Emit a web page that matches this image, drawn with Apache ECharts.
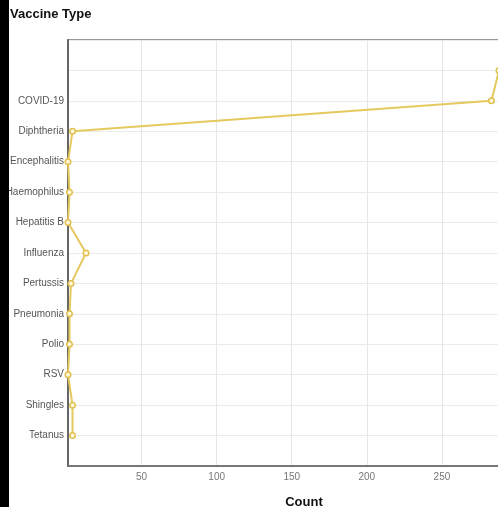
<!DOCTYPE html>
<html>
<head>
<meta charset="utf-8">
<script src="https://cdn.jsdelivr.net/npm/echarts@6/dist/echarts.min.js"></script>
<style>
html,body{margin:0;padding:0;background:#fff;overflow:hidden;}
#wrap{position:relative;width:498px;height:507px;overflow:hidden;}
#chart{position:absolute;left:0;top:0;width:540px;height:507px;}
#bar{position:absolute;left:0;top:0;width:9px;height:507px;background:#000;}
</style>
</head>
<body>
<div id="wrap"><div id="chart"></div><div id="bar"></div></div>
<script>
// Data
var vaccineTypes = ["", "COVID-19", "Diphtheria", "Encephalitis", "Haemophilus", "Hepatitis B", "Influenza", "Pertussis", "Pneumonia", "Polio", "RSV", "Shingles", "Tetanus"];
var counts = [288, 283, 4, 1, 2, 1, 13, 3, 2, 2, 1, 4, 4];
var xTitle = "Count";
var yTitle = "Vaccine Type";

var axisCats = [" "].concat(vaccineTypes, ["  "]);
var seriesData = [null].concat(counts, [null]);

var labelFont = "'Liberation Sans', Arial, sans-serif";

var chart = echarts.init(document.getElementById('chart'));
chart.setOption({
  animation: false,
  title: {
    text: yTitle, left: 5, top: 3,
    textStyle: {fontFamily: 'Liberation Sans, Arial', fontSize: 13, fontWeight: 'bold', color: '#111'}
  },
  grid: {left: 68, right: 23, top: 40, bottom: 41, show: true, borderColor: '#777', borderWidth: 1.5,
         containLabel: false, outerBoundsMode: 'none'},
  xAxis: {
    type: 'value', min: 1, max: 300,
    name: xTitle, nameLocation: 'middle', nameGap: 30,
    nameTextStyle: {fontFamily: 'Liberation Sans, Arial', fontSize: 13, fontWeight: 'bold', color: '#111', padding: [0, 0, 0, 23]},
    axisLine: {show: true, lineStyle: {color: '#777', width: 2}},
    axisTick: {show: false},
    axisLabel: {showMinLabel: false, color: '#777', fontFamily: labelFont, fontSize: 10, margin: 6},
    splitLine: {show: true, lineStyle: {color: '#e6e6e6'}}
  },
  yAxis: {
    type: 'category', data: axisCats, inverse: true, boundaryGap: false,
    axisLine: {show: true, lineStyle: {color: '#666', width: 2}},
    axisTick: {show: false},
    axisLabel: {color: '#555', fontFamily: labelFont, fontSize: 10, margin: 4, interval: 0},
    splitLine: {show: true, lineStyle: {color: '#ebebeb'}}
  },
  series: [{
    type: 'line', data: seriesData,
    symbol: 'circle', symbolSize: 5.5, showSymbol: true,
    lineStyle: {color: '#e5c85e', width: 2},
    itemStyle: {color: '#fff8dc', borderColor: '#e0c050', borderWidth: 1.5},
    clip: false
  }]
});
</script>
</body>
</html>
